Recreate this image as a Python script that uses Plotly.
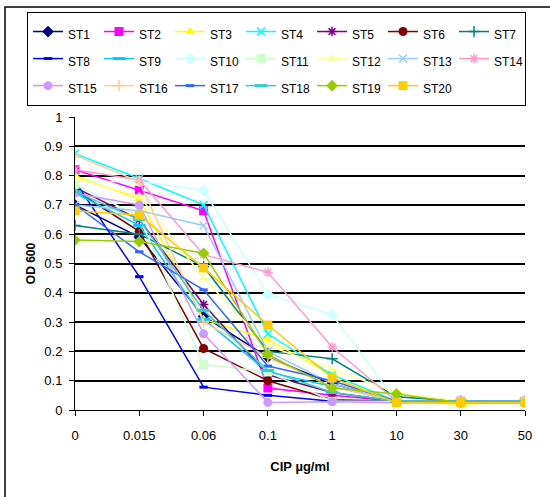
import plotly.graph_objects as go

categories = ["0", "0.015", "0.06", "0.1", "1", "10", "30", "50"]

series_names = ["ST1", "ST2", "ST3", "ST4", "ST5", "ST6", "ST7", "ST8", "ST9", "ST10",
                "ST11", "ST12", "ST13", "ST14", "ST15", "ST16", "ST17", "ST18", "ST19", "ST20"]

st1 = [0.70, 0.59, 0.32, 0.18, 0.09, 0.03, 0.03, 0.03]
st2 = [0.82, 0.75, 0.68, 0.075, 0.05, 0.03, 0.03, 0.03]
st3 = [0.80, 0.72, 0.31, 0.24, 0.12, 0.03, 0.02, 0.03]
st4 = [0.875, 0.79, 0.70, 0.26, 0.12, 0.03, 0.03, 0.03]
st5 = [0.76, 0.65, 0.36, 0.12, 0.06, 0.03, 0.03, 0.03]
st6 = [0.75, 0.61, 0.21, 0.10, 0.035, 0.03, 0.03, 0.03]
st7 = [0.63, 0.60, 0.49, 0.20, 0.175, 0.045, 0.03, 0.03]
st8 = [0.78, 0.455, 0.078, 0.05, 0.03, 0.03, 0.03, 0.03]
st9 = [0.74, 0.63, 0.31, 0.13, 0.08, 0.03, 0.03, 0.03]
st10 = [0.78, 0.78, 0.75, 0.395, 0.325, 0.03, 0.03, 0.03]
st11 = [0.77, 0.66, 0.155, 0.13, 0.03, 0.03, 0.03, 0.03]
st12 = [0.79, 0.73, 0.45, 0.22, 0.14, 0.06, 0.03, 0.03]
st13 = [0.70, 0.68, 0.63, 0.20, 0.09, 0.03, 0.03, 0.03]
st14 = [0.82, 0.785, 0.53, 0.47, 0.215, 0.03, 0.03, 0.03]
st15 = [0.74, 0.70, 0.26, 0.026, 0.028, 0.025, 0.025, 0.025]
st16 = [0.87, 0.78, 0.30, 0.18, 0.08, 0.03, 0.03, 0.03]
st17 = [0.70, 0.54, 0.41, 0.15, 0.10, 0.03, 0.03, 0.03]
st18 = [0.745, 0.65, 0.34, 0.135, 0.06, 0.03, 0.03, 0.03]
st19 = [0.58, 0.575, 0.535, 0.19, 0.075, 0.055, 0.025, 0.025]
st20 = [0.68, 0.665, 0.485, 0.29, 0.11, 0.025, 0.025, 0.025]

values = [st1, st2, st3, st4, st5, st6, st7, st8, st9, st10,
          st11, st12, st13, st14, st15, st16, st17, st18, st19, st20]

colors = ["#000080", "#FF00FF", "#FFFF00", "#00FFFF", "#800080", "#800000", "#008080",
          "#0000FF", "#00CCFF", "#CCFFFF", "#CCFFCC", "#FFFF99", "#99CCFF", "#FF99CC",
          "#CC99FF", "#FFCC99", "#3366FF", "#33CCCC", "#99CC00", "#FFCC00"]

symbols = ["diamond", "square", "triangle-up", "x-thin", "asterisk", "circle", "cross-thin",
           "line-ew", "line-ew", "diamond", "square", "triangle-up", "x-thin", "asterisk",
           "circle", "cross-thin", "line-ew", "line-ew", "diamond", "square"]

sizes = [9, 9, 9, 8, 8, 9, 8, 6, 9, 9, 9, 9, 8, 8, 9, 8, 6, 9, 9, 9]

FONT = "Arial, Liberation Sans, sans-serif"

W, H = 550, 497
ML, MT = 75, 117
PW, PH = 450, 293

fig = go.Figure()
for name, vals, col, sym, sz in zip(series_names, values, colors, symbols, sizes):
    line_sym = sym in ("x-thin", "asterisk", "cross-thin", "line-ew")
    fig.add_trace(go.Scatter(
        x=categories, y=vals,
        name=f'<span style="font-size:12px">{name}</span>',
        mode="lines+markers",
        line=dict(color=col, width=1.5),
        marker=dict(symbol=sym, size=sz, color=col,
                    line=dict(color=col, width=(3 if sym == "line-ew" else 1.5) if line_sym else 0)),
    ))

fig.update_layout(
    width=W, height=H,
    margin=dict(l=ML, r=W - ML - PW, t=MT, b=H - MT - PH),
    paper_bgcolor="white", plot_bgcolor="white",
    font=dict(family=FONT, size=13, color="black"),
    showlegend=True,
    legend=dict(orientation="h",
                x=(27 - ML) / PW, xanchor="left",
                y=(MT + PH - 12) / PH, yanchor="top",
                entrywidth=26, bordercolor="black", borderwidth=1,
                font=dict(family=FONT, size=18.5, color="black"), traceorder="normal"),
    xaxis=dict(type="category", range=[0, 7], showgrid=False, showline=True,
               linecolor="black", linewidth=1, ticks="outside", ticklen=5,
               tickcolor="black", tickfont=dict(size=13), automargin=False,
               ticklabelstandoff=8,
               title=dict(text="<b>CIP µg/ml</b>", font=dict(size=13), standoff=20)),
    yaxis=dict(range=[0, 1], dtick=0.1, showgrid=True, gridcolor="black", gridwidth=1.5,
               showline=True, linecolor="black", linewidth=1, ticks="outside", ticklen=5,
               tickcolor="black", tickfont=dict(size=13), zeroline=False, automargin=False,
               ticklabelstandoff=4,
               title=dict(text="<b>OD 600</b>", font=dict(size=12), standoff=6)),
    shapes=[dict(type="rect", xref="paper", yref="paper",
                 x0=(5 - ML) / PW, x1=(560 - ML) / PW,
                 y0=(MT + PH - 520) / PH, y1=(MT + PH - 7) / PH,
                 line=dict(color="black", width=1.5), fillcolor="rgba(0,0,0,0)", layer="below")],
)

fig.write_html("out.html",
               config={"displayModeBar": False},
               post_script="document.body.style.margin='0';document.body.style.overflow='hidden';")
